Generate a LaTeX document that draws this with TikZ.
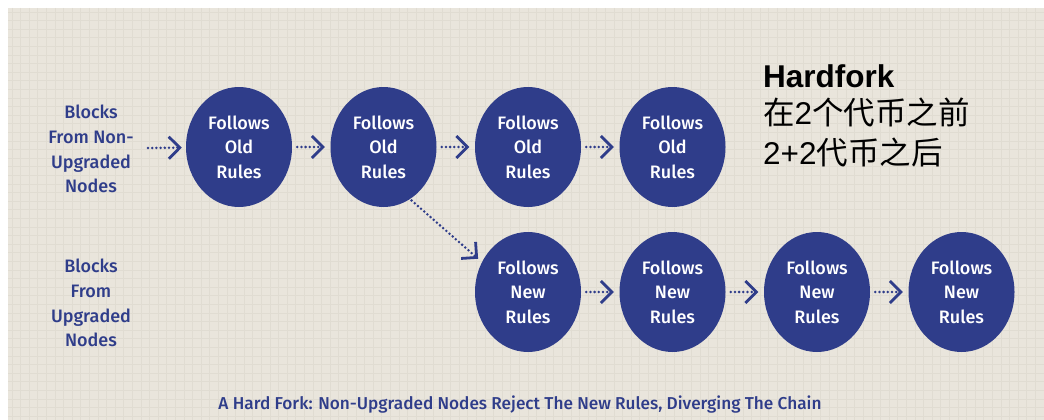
\documentclass[tikz,border=0pt]{standalone}
\usepackage{fontspec}
\usetikzlibrary{shapes.geometric,arrows.meta}
\newfontfamily\navyfont{Fira Sans Medium}
\newfontfamily\hfont{Liberation Sans}
\newfontfamily\cjkfont{Noto Sans CJK SC}
\definecolor{navy}{HTML}{2F3D8A}
\definecolor{paper}{HTML}{E9E5DC}
\definecolor{gridc}{HTML}{E0DCD2}
\tikzset{
  blk/.style={ellipse, fill=navy, text=white, minimum width=106pt, minimum height=120pt, inner sep=0pt, align=center, font=\navyfont\fontsize{18}{24.5}\selectfont},
  lab/.style={text=navy, align=center, inner sep=0pt, font=\navyfont\fontsize{18}{24.7}\selectfont},
  arr/.style={navy, line width=2.8pt, line cap=round, dash pattern=on 0pt off 4.2pt, -{Straight Barb[length=11pt,width=22pt,line width=2.8pt]}}
}
\begin{document}
\begin{tikzpicture}[x=1pt,y=-1pt]
\useasboundingbox (0,0) rectangle (1044,420);
\fill[white] (0,0) rectangle (1044,420);
\fill[paper] (8,8) rectangle (1044,420);
\foreach \x in {12,20.6,...,1044} \draw[gridc, line width=0.8pt] (\x,8) -- (\x,420);
\foreach \y in {12,20.6,...,420} \draw[gridc, line width=0.8pt] (8,\y) -- (1044,\y);
% left labels
\node[lab] (l1) at (91,149) {Blocks\\From Non-\\Upgraded\\Nodes};
\node[lab] (l2) at (91,303) {Blocks\\From\\Upgraded\\Nodes};
% old chain
\node[blk] (o1) at (239,147) {Follows\\Old\\Rules};
\node[blk] (o2) at (383.5,147) {Follows\\Old\\Rules};
\node[blk] (o3) at (528,147) {Follows\\Old\\Rules};
\node[blk] (o4) at (672.5,147) {Follows\\Old\\Rules};
% new chain
\node[blk] (n1) at (528,292) {Follows\\New\\Rules};
\node[blk] (n2) at (672.5,292) {Follows\\New\\Rules};
\node[blk] (n3) at (817,292) {Follows\\New\\Rules};
\node[blk] (n4) at (961.5,292) {Follows\\New\\Rules};
% arrows
\coordinate (s1) at (148,148);
\draw[arr, shorten >=4pt] (s1) -- (o1);
\draw[arr, shorten <=5pt, shorten >=5.5pt] (o1) -- (o2);
\draw[arr, shorten <=5pt, shorten >=5.5pt] (o2) -- (o3);
\draw[arr, shorten <=5pt, shorten >=5.5pt] (o3) -- (o4);
\draw[arr, shorten <=2pt, shorten >=5pt] (o2.-63) -- (n1.147);
\draw[arr, shorten <=5pt, shorten >=5.5pt] (n1) -- (n2);
\draw[arr, shorten <=5pt, shorten >=5.5pt] (n2) -- (n3);
\draw[arr, shorten <=5pt, shorten >=5.5pt] (n3) -- (n4);
% hardfork text
\node[anchor=base west, inner sep=0pt, font=\hfont\bfseries\fontsize{31.5}{31.5}\selectfont] (h1) at (763,87) {Hardfork};
\node[anchor=base west, inner sep=0pt, font=\cjkfont\fontsize{31.5}{31.5}\selectfont] (h2) at (763,124) {在{\hfont 2}个代币之前};
\node[anchor=base west, inner sep=0pt, font=\cjkfont\fontsize{31.5}{31.5}\selectfont] (h3) at (763,164) {{\hfont 2+2}代币之后};
% caption
\node[anchor=base, inner sep=0pt, text=navy, font=\navyfont\fontsize{17.2}{20}\selectfont] (cap) at (520,409) {A Hard Fork: Non-Upgraded Nodes Reject The New Rules, Diverging The Chain};
\end{tikzpicture}
\end{document}
